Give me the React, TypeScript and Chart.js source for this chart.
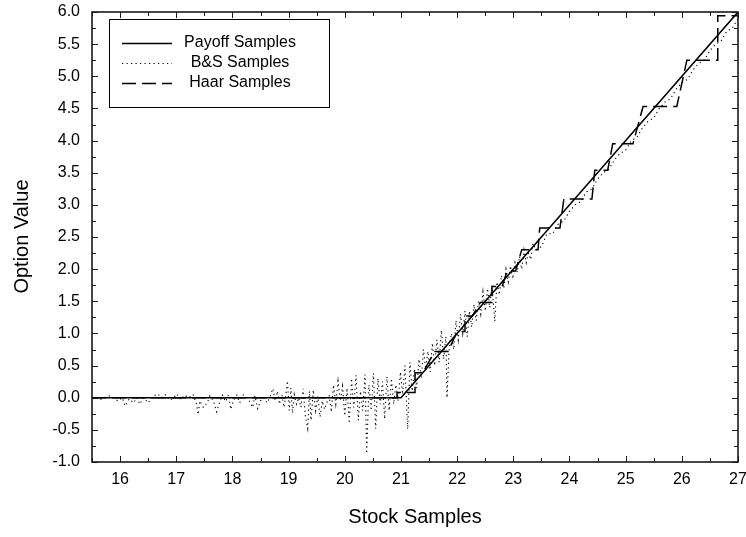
import React, { useEffect, useRef } from "react";
import { Chart, registerables } from "chart.js";

Chart.register(...registerables);

const FONT = "'Liberation Sans', Arial, Helvetica, sans-serif";

const seriesLabels = ["Payoff Samples", "B&S Samples", "Haar Samples"];
const xAxisTitle = "Stock Samples";
const yAxisTitle = "Option Value";

const xTickValues = [16, 17, 18, 19, 20, 21, 22, 23, 24, 25, 26, 27];

const payoffX = [15.5, 21, 27];
const payoffY = [0, 0, 6];

const haarX = [15.5, 20.93, 20.93, 21.25, 21.25, 21.39, 21.6, 21.84, 22.0, 22.14, 22.14, 22.27, 22.41, 22.62, 22.62, 22.8, 22.89, 23.04, 23.15, 23.44, 23.47, 23.83, 23.9, 24.4, 24.45, 24.68, 24.77, 25.13, 25.31, 25.91, 26.09, 26.64, 26.64, 27.0];
const haarY = [0, 0, 0.08, 0.08, 0.39, 0.39, 0.72, 0.72, 1.03, 1.03, 1.27, 1.27, 1.48, 1.48, 1.73, 1.73, 1.97, 1.97, 2.3, 2.3, 2.64, 2.64, 3.09, 3.09, 3.54, 3.54, 3.95, 3.95, 4.53, 4.53, 5.25, 5.25, 5.94, 5.94];

const bsX = [
  15.5, 15.58, 15.64, 15.72, 15.8, 15.88, 15.96, 16.04, 16.09, 16.16, 16.24, 16.3, 16.35, 16.42, 16.5, 16.58, 16.67, 16.74, 16.8, 16.88,
  16.95, 17.01, 17.08, 17.15, 17.22, 17.3, 17.36, 17.39, 17.42, 17.48, 17.55, 17.6, 17.66, 17.72, 17.76, 17.82, 17.88, 17.93, 17.97, 18.02,
  18.08, 18.13, 18.18, 18.24, 18.3, 18.36, 18.4, 18.45, 18.5, 18.56, 18.62, 18.68,
  18.72, 18.76, 18.8, 18.84, 18.88, 18.92, 18.96, 18.98, 19.01, 19.04, 19.07, 19.1, 19.14, 19.18, 19.22, 19.26, 19.3, 19.34, 19.37, 19.4,
  19.44, 19.48, 19.52, 19.56, 19.6, 19.64, 19.68, 19.72, 19.76, 19.8, 19.84, 19.88, 19.92, 19.96, 20.0, 20.04, 20.08, 20.12, 20.16, 20.2,
  20.24, 20.28, 20.32, 20.36, 20.39, 20.43, 20.47, 20.51, 20.55, 20.59, 20.63, 20.67, 20.71, 20.75, 20.79, 20.83, 20.87, 20.91, 20.95, 20.99,
  21.03, 21.07,
  21.12, 21.16, 21.2, 21.24, 21.28, 21.32, 21.36, 21.4, 21.44, 21.48, 21.52, 21.56, 21.6, 21.64, 21.68, 21.72, 21.76, 21.8, 21.82, 21.86,
  21.9, 21.94, 21.98, 22.02, 22.06, 22.1, 22.14, 22.18, 22.22, 22.26, 22.3, 22.34, 22.38, 22.42, 22.46, 22.5, 22.54, 22.58, 22.62, 22.67,
  22.71, 22.75, 22.79, 22.83, 22.87, 22.91, 22.95, 22.99, 23.03, 23.07, 23.11, 23.15, 23.19, 23.23, 23.27, 23.31, 23.35, 23.4,
  23.5, 23.6, 23.7, 23.8, 23.9, 24.0, 24.1, 24.2, 24.3, 24.4, 24.5, 24.6, 24.7, 24.8, 24.9, 25.0, 25.1, 25.2, 25.3, 25.4,
  25.5, 25.6, 25.7, 25.8, 25.9, 26.0, 26.1, 26.2, 26.3, 26.4, 26.5, 26.6, 26.7, 26.8, 26.9, 27.0
];
const bsY = [
  0.0, 0.0, -0.03, 0.0, 0.03, 0.0, -0.05, 0.0, -0.13, -0.02, -0.08, 0.0, -0.1, 0.0, -0.08, 0.02, 0.06, 0.0, 0.05, -0.04,
  0.0, 0.06, -0.03, 0.04, 0.0, 0.05, -0.1, -0.26, -0.05, -0.15, -0.08, 0.03, -0.05, -0.22, -0.1, 0.04, -0.06, 0.05, -0.18, -0.04,
  0.04, -0.08, 0.05, 0.02, -0.05, -0.15, 0.03, -0.17, -0.05, 0.0, -0.08, 0.04,
  0.14, -0.05, 0.1, -0.1, 0.05, -0.15, 0.12, 0.26, -0.2, 0.15, -0.24, 0.05, -0.1, 0.0, -0.15, 0.14, -0.3, -0.48, 0.1, -0.35,
  0.12, -0.2, 0.02, -0.3, -0.05, -0.18, -0.08, 0.05, -0.22, 0.2, -0.1, 0.26, -0.05, 0.18, -0.28, 0.15, -0.4, 0.3, -0.15, 0.35,
  -0.35, 0.1, -0.2, 0.36, -0.87, 0.2, -0.2, 0.38, -0.48, 0.3, -0.1, 0.25, -0.33, 0.33, -0.2, 0.3, -0.1, 0.2, -0.05, 0.4,
  0.05, 0.5,
  -0.49, 0.55, 0.1, 0.45, 0.15, 0.6, 0.3, 0.75, 0.45, 0.72, 0.4, 0.85, 0.5, 0.9, 0.55, 1.05, 0.6, 0.95, 0.0, 0.8,
  1.0, 0.75, 1.2, 0.9, 1.3, 1.0, 1.35, 0.95, 1.35, 1.1, 1.45, 1.2, 1.5, 1.3, 1.65, 1.35, 1.7, 1.4, 1.75, 1.19,
  1.8, 1.6, 1.9, 1.7, 2.0, 1.8, 2.05, 1.85, 2.1, 1.95, 2.2, 2.0, 2.3, 2.1, 2.25, 2.15, 2.4, 2.3,
  2.35, 2.55, 2.55, 2.7, 2.75, 2.9, 3.0, 3.05, 3.2, 3.25, 3.4, 3.5, 3.55, 3.7, 3.8, 3.85, 4.0, 4.05, 4.2, 4.3,
  4.35, 4.5, 4.6, 4.65, 4.8, 4.9, 4.95, 5.1, 5.2, 5.25, 5.4, 5.5, 5.55, 5.7, 5.75, 5.9
];

function toPoints(xs: number[], ys: number[]) {
  return xs.map((x, i) => ({ x, y: ys[i] }));
}

const framePlugin = {
  id: "framePlugin",
  afterDatasetsDraw(chart: any) {
    const { ctx, chartArea: a, scales } = chart;
    const xs = scales.x;
    const ys = scales.y;
    ctx.save();
    ctx.strokeStyle = "#1a1a1a";
    ctx.lineWidth = 1;
    ctx.beginPath();
    const major = 6;
    const minor = 4;
    xTickValues.forEach((v) => {
      const p = Math.round(xs.getPixelForValue(v)) + 0.5;
      ctx.moveTo(p, a.bottom); ctx.lineTo(p, a.bottom - major);
      ctx.moveTo(p, a.top); ctx.lineTo(p, a.top + major);
      const m = xs.getPixelForValue(v - 0.5);
      const pm = Math.round(m) + 0.5;
      ctx.moveTo(pm, a.bottom); ctx.lineTo(pm, a.bottom - minor);
      ctx.moveTo(pm, a.top); ctx.lineTo(pm, a.top + minor);
    });
    const yt = ys.ticks.map((t: any) => t.value);
    yt.forEach((v: number, i: number) => {
      const p = Math.round(ys.getPixelForValue(v)) + 0.5;
      ctx.moveTo(a.left, p); ctx.lineTo(a.left + major, p);
      ctx.moveTo(a.right, p); ctx.lineTo(a.right - major, p);
      if (i < yt.length - 1) {
        const pm = Math.round(ys.getPixelForValue((v + yt[i + 1]) / 2)) + 0.5;
        ctx.moveTo(a.left, pm); ctx.lineTo(a.left + minor, pm);
        ctx.moveTo(a.right, pm); ctx.lineTo(a.right - minor, pm);
      }
    });
    ctx.stroke();
    ctx.lineWidth = 1.6;
    ctx.strokeRect(a.left, a.top, a.right - a.left, a.bottom - a.top);

    // legend
    const bx = 109.5, by = 19.5, bw = 220, bh = 88;
    ctx.fillStyle = "#fff";
    ctx.fillRect(bx, by, bw, bh);
    ctx.lineWidth = 1;
    ctx.strokeStyle = "#000";
    ctx.strokeRect(bx, by, bw, bh);
    ctx.font = `16px ${FONT}`;
    ctx.fillStyle = "#000";
    ctx.textAlign = "center";
    ctx.textBaseline = "middle";
    chart.data.datasets.forEach((ds: any, i: number) => {
      const ry = 43 + i * 20;
      ctx.save();
      ctx.lineWidth = ds.borderWidth;
      ctx.setLineDash(ds.borderDash || []);
      ctx.beginPath();
      ctx.moveTo(122, ry + 0.5);
      ctx.lineTo(172, ry + 0.5);
      ctx.stroke();
      ctx.restore();
      ctx.fillText(ds.label, 240, ry);
    });

    // axis titles
    ctx.font = `20px ${FONT}`;
    ctx.textBaseline = "alphabetic";
    ctx.textAlign = "center";
    ctx.fillText(xAxisTitle, (a.left + a.right) / 2, 523);
    ctx.save();
    ctx.translate(28, 236.5);
    ctx.rotate(-Math.PI / 2);
    ctx.fillText(yAxisTitle, 0, 0);
    ctx.restore();
    ctx.restore();
  },
};

export default function App() {
  const ref = useRef<HTMLCanvasElement | null>(null);
  useEffect(() => {
    if (!ref.current) return;
    const chart = new Chart(ref.current, {
      type: "scatter",
      data: {
        datasets: [
          {
            label: seriesLabels[0],
            data: toPoints(payoffX, payoffY),
            showLine: true,
            borderColor: "#000",
            borderWidth: 1.5,
            pointRadius: 0,
            borderDash: [],
          },
          {
            label: seriesLabels[1],
            data: toPoints(bsX, bsY),
            showLine: true,
            borderColor: "#000",
            borderWidth: 1.1,
            pointRadius: 0,
            borderDash: [1.2, 3.3],
          },
          {
            label: seriesLabels[2],
            data: toPoints(haarX, haarY),
            showLine: true,
            borderColor: "#000",
            borderWidth: 1.5,
            pointRadius: 0,
            borderDash: [14, 6],
          },
        ],
      },
      options: {
        animation: false,
        responsive: false,
        devicePixelRatio: 1,
        layout: { padding: { top: 12, right: 8, left: 0, bottom: 0 } },
        plugins: { legend: { display: false }, tooltip: { enabled: false } },
        scales: {
          x: {
            type: "linear",
            min: 15.5,
            max: 27,
            grid: { display: false, drawTicks: false },
            border: { display: false },
            ticks: {
              color: "#000",
              font: { family: FONT, size: 16 },
              padding: 8,
              autoSkip: false,
              maxRotation: 0,
              callback: (v: any) => String(v),
            },
            afterBuildTicks: (s: any) => {
              s.ticks = xTickValues.map((v) => ({ value: v }));
            },
            afterFit: (s: any) => {
              s.height = 75;
              s.paddingLeft = 0;
              s.paddingRight = 0;
            },
          },
          y: {
            type: "linear",
            min: -1,
            max: 6,
            grid: { display: false, drawTicks: false },
            border: { display: false },
            ticks: {
              stepSize: 0.5,
              color: "#000",
              font: { family: FONT, size: 16 },
              padding: 12,
              callback: (v: any) => Number(v).toFixed(1),
            },
            afterFit: (s: any) => {
              s.width = 92;
              s.paddingTop = 0;
              s.paddingBottom = 0;
            },
          },
        },
      },
      plugins: [framePlugin],
    });
    return () => chart.destroy();
  }, []);
  return (
    <div style={{ position: "absolute", left: 0, top: 0, width: 746, height: 537, background: "#fff" }}>
      <canvas ref={ref} width={746} height={537} style={{ display: "block" }} />
    </div>
  );
}
